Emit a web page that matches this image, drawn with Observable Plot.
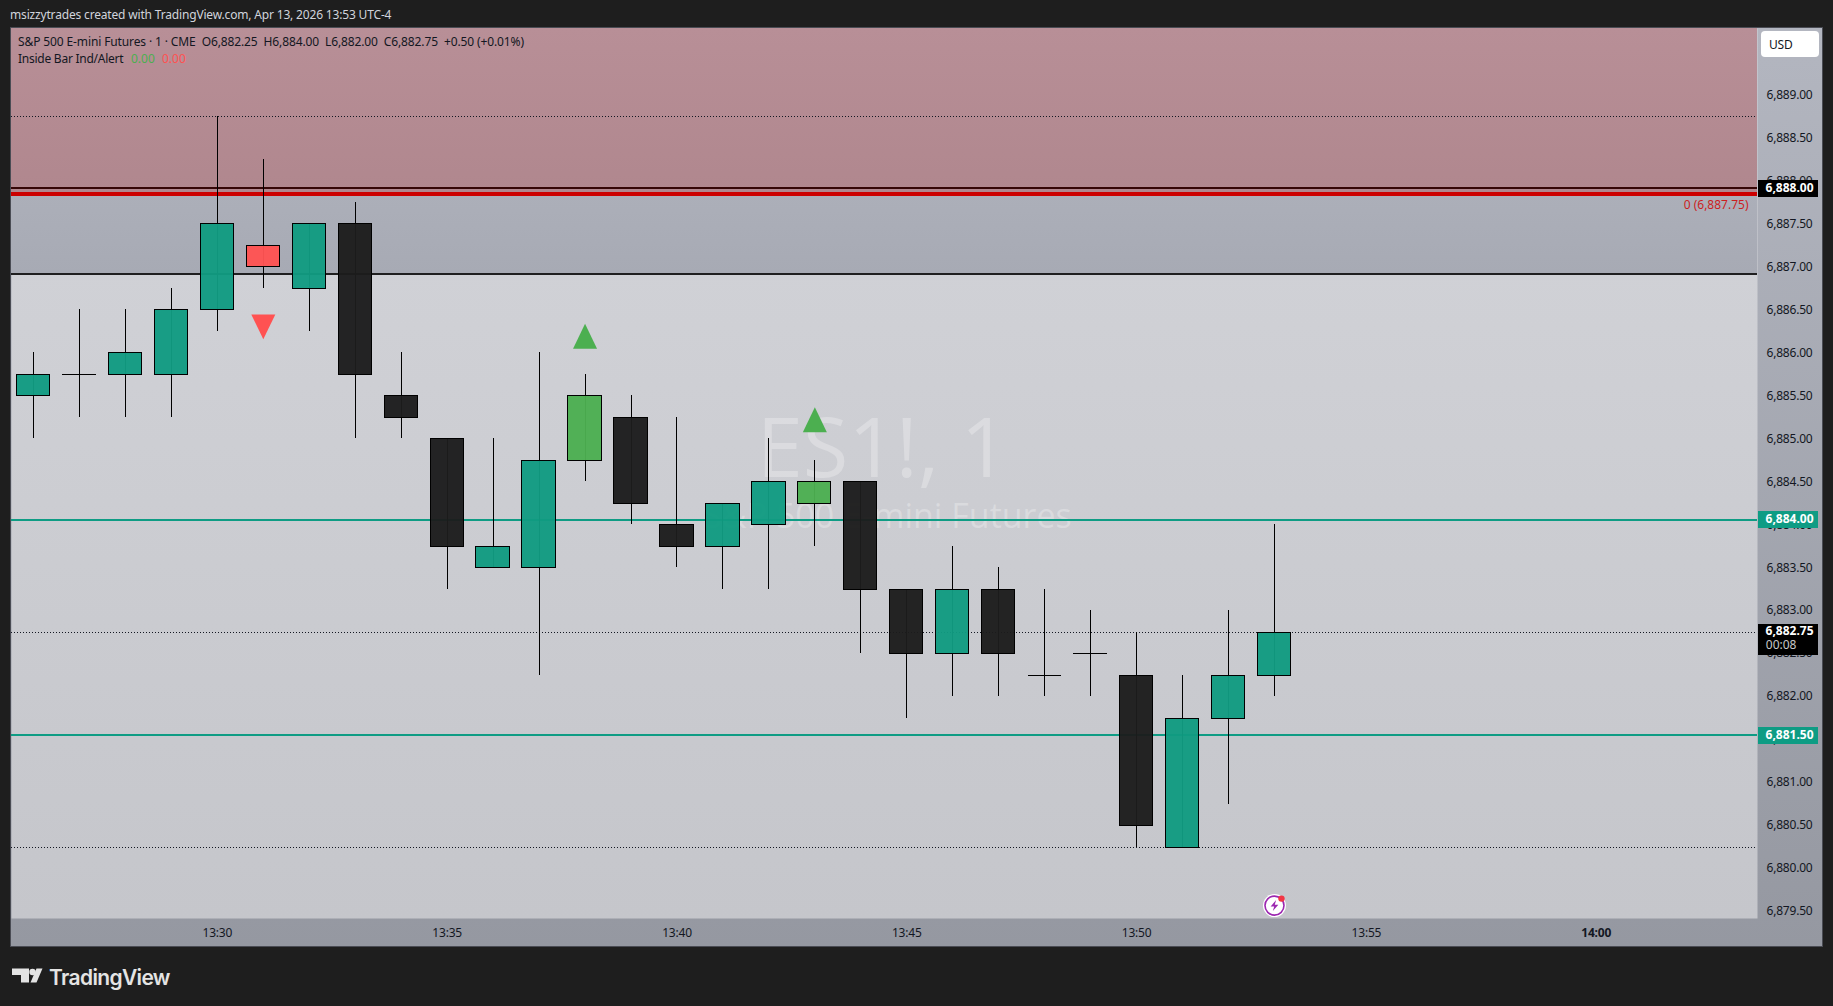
<!DOCTYPE html>
<html><head><meta charset="utf-8">
<script src="https://cdn.jsdelivr.net/npm/d3@7"></script>
<script src="https://cdn.jsdelivr.net/npm/@observablehq/plot@0.6"></script>
<style>
html,body{margin:0;padding:0;background:#1e1e1e;width:1833px;height:1006px;overflow:hidden}
body{font-family:"Noto Sans",sans-serif}
#panel{position:absolute;left:10px;top:27px;width:1811px;height:918px;border:1px solid #4a4c54;background:linear-gradient(#b3b6c0,#9598a1)}
#chart{position:absolute;left:0;top:0}
.t{position:absolute;white-space:pre;font-size:12px;line-height:16px}
svg{display:block}
g[aria-label$="tick label"] text{letter-spacing:-.2px}
</style></head><body>
<div id="panel"></div>
<div id="chart"></div>
<div class="t" id="head" style="left:10px;top:6px;color:#d1d4dc;font-size:12px;line-height:18px;letter-spacing:-.17px"></div>
<div class="t" id="leg1" style="left:18px;top:34px;color:#131722;letter-spacing:-.12px"></div>
<div class="t" id="leg2" style="left:18px;top:51px;color:#131722;letter-spacing:-.25px"></div>
<div class="t" id="leg3" style="left:131px;top:51px;color:#4caf50"></div>
<div class="t" id="leg4" style="left:162px;top:51px;color:#ff5252"></div>
<div class="t" id="usd" style="left:1761px;top:31px;width:58px;height:26px;background:#fff;border-radius:4px;color:#131722;line-height:27px;text-indent:8px;letter-spacing:-.2px"></div>
<svg style="position:absolute;left:12px;top:968px" width="31" height="15" viewBox="0 0 31 15"><path fill="#e4e4e4" d="M0 .5H17V14.5H9V7H0ZM18.5 14.5L24.5 .5H30.5L24.5 14.5Z"/><circle fill="#e4e4e4" cx="20.5" cy="4" r="3.2"/></svg>
<div class="t" id="brand" style="left:49px;top:965px;color:#e4e4e4;font-family:Inter,sans-serif;font-weight:600;font-size:21px;line-height:26px;letter-spacing:-.65px"></div>
<script>
const headerText = "msizzytrades created with TradingView.com, Apr 13, 2026 13:53 UTC-4";
const legendText = "S&P 500 E-mini Futures · 1 · CME  O6,882.25  H6,884.00  L6,882.00  C6,882.75  +0.50 (+0.01%)";
const indicatorName = "Inside Bar Ind/Alert";
const indicatorValues = ["0.00", "0.00"];
const currency = "USD";
const brand = "TradingView";

const minutes = [26,27,28,29,30,31,32,33,34,35,36,37,38,39,40,41,42,43,44,45,46,47,48,49,50,51,52,53];
const opens  = [6885.5,6885.75,6885.75,6885.75,6886.5,6887.25,6886.75,6887.5,6885.5,6885,6883.5,6883.5,6884.75,6885.25,6884,6883.75,6884,6884.25,6884.5,6883.25,6882.5,6883.25,6882.25,6882.5,6882.25,6880.25,6881.75,6882.25];
const closes = [6885.75,6885.75,6886,6886.5,6887.5,6887,6887.5,6885.75,6885.25,6883.75,6883.75,6884.75,6885.5,6884.25,6883.75,6884.25,6884.5,6884.5,6883.25,6882.5,6883.25,6882.5,6882.25,6882.5,6880.5,6881.75,6882.25,6882.75];
const highs  = [6886,6886.5,6886.5,6886.75,6888.75,6888.25,6887.5,6887.75,6886,6885,6885,6886,6885.75,6885.5,6885.25,6884.25,6885,6884.75,6884.5,6883.25,6883.75,6883.5,6883.25,6883,6882.75,6882.25,6883,6884];
const lows   = [6885,6885.25,6885.25,6885.25,6886.25,6886.75,6886.25,6885,6885,6883.25,6883.5,6882.25,6884.5,6884,6883.5,6883.25,6883.25,6883.75,6882.5,6881.75,6882,6882,6882,6882,6880.25,6880.25,6880.75,6882];
const kinds  = ["up","doji","up","up","up","inside","up","down","down","down","up","up","signal","down","down","up","up","signal","down","down","up","down","doji","doji","down","up","up","up"];
const kindColors = {up:"#119b81",down:"#1c1c1c",doji:"#1c1c1c",inside:"#ff5252",signal:"#4caf50"};

const upSignals = [{m:38,v:6886.19},{m:43,v:6885.22}];
const downSignals = [{m:31,v:6886.3}];
const dottedLevels = [6888.75,6882.75,6880.25];
const tealLevels = [6884.06,6881.55];
const blackLevels = [6887.91];
const redLevel = 6887.845;
const supportLevel = 6886.92;
const priceTicks = d3.range(6879.5,6889.01,0.5);
const timeTicks = [30,35,40,45,50,55];
const boldTicks = [60];
const yDomain = [6879.42,6889.77];
const xDomain = [25.5214,63.509];
const labelSpan = [63.53,64.83];
const alertMinute = 53, alertValue = 6879.57;

const t = m => new Date(Date.UTC(2026,3,13,13,0) + m*60000);
const candles = minutes.map((m,i)=>({m,o:opens[i],c:closes[i],h:highs[i],l:lows[i],k:kinds[i]}));
const bodies = candles.filter(d=>d.k!=="doji");
const dojis = candles.filter(d=>d.k==="doji");
const halfW = 0.362;

function rectLabel(value,color,w){
  return Plot.ruleY([value],{x1:()=>t(labelSpan[0]),x2:()=>t(labelSpan[1]),stroke:color,strokeWidth:w,shapeRendering:"crispEdges"});
}
const priceLabel = (text,value,opts={}) => Plot.text([text],{frameAnchor:"right",y:()=>value,dx:56,textAnchor:"end",fill:"#fff",fontWeight:"bold",fontSize:12,...opts});
const triUp = {draw(c,s){const r=Math.sqrt(s/Math.PI);c.moveTo(0,-r*1.04);c.lineTo(r,r*1.04);c.lineTo(-r,r*1.04);c.closePath();}};
const triDown = {draw(c,s){const r=Math.sqrt(s/Math.PI);c.moveTo(0,r*1.04);c.lineTo(r,-r*1.04);c.lineTo(-r,-r*1.04);c.closePath();}};
const bolt = {draw(c,s){const r=Math.sqrt(s/Math.PI);c.moveTo(r*.3,-r);c.lineTo(-r*.7,r*.15);c.lineTo(-r*.05,r*.15);c.lineTo(-r*.3,r);c.lineTo(r*.7,-r*.15);c.lineTo(r*.05,-r*.15);c.closePath();}};

const defs = () => {
  const d = d3.create("svg:defs");
  const g = (id,stops)=>{const l=d.append("linearGradient").attr("id",id).attr("x1",0).attr("x2",0).attr("y1",0).attr("y2",1);
    stops.forEach((s,i)=>l.append("stop").attr("offset",i/(stops.length-1)).attr("stop-color",s));};
  g("pane",["#d4d5da","#c5c6cb"]);
  g("redz",["#b88f97","#b0878e"]);
  g("greyz",["#acafb9","#a7aab4"]);
  return d.node();
};

const plot = Plot.plot({
  width:1833,height:1006,marginLeft:11,marginRight:76,marginTop:28,marginBottom:88,
  style:{background:"transparent",fontFamily:'"Noto Sans",sans-serif',fontSize:"12px",color:"#131722",overflow:"visible"},
  x:{type:"utc",domain:xDomain.map(t)},
  y:{type:"linear",domain:yDomain},
  marks:[
    defs,
    Plot.frame({fill:"url(#pane)",stroke:"none"}),
    Plot.rect([0],{x1:()=>t(xDomain[0]),x2:()=>t(xDomain[1]),y1:()=>yDomain[1],y2:()=>redLevel,fill:"url(#redz)"}),
    Plot.rect([0],{x1:()=>t(xDomain[0]),x2:()=>t(xDomain[1]),y1:()=>redLevel,y2:()=>supportLevel,fill:"url(#greyz)"}),
    Plot.text(["ES1!, 1"],{frameAnchor:"middle",dx:-2,dy:-23,fontSize:83,fill:"#fff",fillOpacity:.28,fontFamily:'"Open Sans",sans-serif'}),
    Plot.text(["S&P 500 E-mini Futures"],{frameAnchor:"middle",dx:3,dy:44,fontSize:34,fill:"#fff",fillOpacity:.28,fontFamily:'"Open Sans",sans-serif'}),
    Plot.ruleY(dottedLevels,{stroke:"#131722",strokeWidth:1,strokeDasharray:"1 2",shapeRendering:"crispEdges"}),
    Plot.ruleY(tealLevels,{stroke:"#0e9c84",strokeWidth:2,shapeRendering:"crispEdges"}),
    Plot.ruleY([supportLevel],{stroke:"#000",strokeWidth:2,strokeOpacity:.85,shapeRendering:"crispEdges"}),
    Plot.ruleY(blackLevels,{stroke:"#350606",strokeWidth:2,shapeRendering:"crispEdges"}),
    Plot.ruleY([redLevel],{stroke:"#cc0000",strokeWidth:3.5,shapeRendering:"crispEdges"}),
    Plot.ruleX(candles,{x:d=>t(d.m),y1:"l",y2:"h",stroke:"#000",strokeWidth:1,shapeRendering:"crispEdges"}),
    Plot.ruleY(dojis,{y:"o",x1:d=>t(d.m-halfW),x2:d=>t(d.m+halfW),stroke:"#000",strokeWidth:1,shapeRendering:"crispEdges"}),
    Plot.rect(bodies,{x1:d=>t(d.m-halfW),x2:d=>t(d.m+halfW),y1:"o",y2:"c",dy:.5,fill:d=>kindColors[d.k],fillOpacity:.96,stroke:"#000",strokeWidth:1,shapeRendering:"crispEdges"}),
    Plot.dot(upSignals,{x:d=>t(d.m),y:"v",r:12,symbol:triUp,fill:"#4caf50",stroke:"none"}),
    Plot.dot(downSignals,{x:d=>t(d.m),y:"v",r:12,symbol:triDown,fill:"#ff5252",stroke:"none"}),
    Plot.axisY({anchor:"right",ticks:priceTicks,tickSize:0,tickPadding:9,tickFormat:d3.format(",.2f"),label:null,fill:"#131722",fontSize:12}),
    Plot.axisX({ticks:timeTicks.map(t),tickSize:0,tickPadding:10,tickFormat:d3.utcFormat("%H:%M"),label:null,fill:"#131722",fontSize:12}),
    Plot.axisX({ticks:boldTicks.map(t),tickSize:0,tickPadding:10,tickFormat:d3.utcFormat("%H:%M"),label:null,fill:"#131722",fontSize:12,fontWeight:"bold"}),
    Plot.text(["0 (6,887.75)"],{frameAnchor:"right",y:()=>6887.71,dx:-9,textAnchor:"end",fill:"#cc1f1f",fontSize:12}),
    rectLabel(blackLevels[0],"#000",17),
    rectLabel(tealLevels[0],"#0e9c84",17),
    rectLabel(tealLevels[1],"#0e9c84",17),
    rectLabel(6882.67,"#000",31),
    priceLabel("6,888.00",blackLevels[0]),
    priceLabel("6,884.00",tealLevels[0]),
    priceLabel("6,881.50",tealLevels[1]),
    priceLabel("6,882.75",6882.76),
    priceLabel("00:08",6882.6,{dx:39,fill:"#c8c8c8",fontWeight:"normal"}),
    Plot.dot([0],{x:()=>t(alertMinute),y:()=>alertValue,r:11.5,fill:"#fff",stroke:"none"}),
    Plot.dot([0],{x:()=>t(alertMinute),y:()=>alertValue,r:9.5,fill:"none",stroke:"#9c27b0",strokeWidth:1.6}),
    Plot.dot([0],{x:()=>t(alertMinute),y:()=>alertValue,r:5.5,symbol:bolt,fill:"#9c27b0",stroke:"none"}),
    Plot.dot([0],{x:()=>t(alertMinute),y:()=>alertValue,dx:7,dy:-7,r:3.2,fill:"#f23645",stroke:"none"})
  ]
});
document.getElementById("chart").append(plot);
document.getElementById("head").textContent=headerText;
document.getElementById("leg1").textContent=legendText;
document.getElementById("leg2").textContent=indicatorName;
document.getElementById("leg3").textContent=indicatorValues[0];
document.getElementById("leg4").textContent=indicatorValues[1];
document.getElementById("usd").textContent=currency;
document.getElementById("brand").textContent=brand;
</script>
</body></html>
